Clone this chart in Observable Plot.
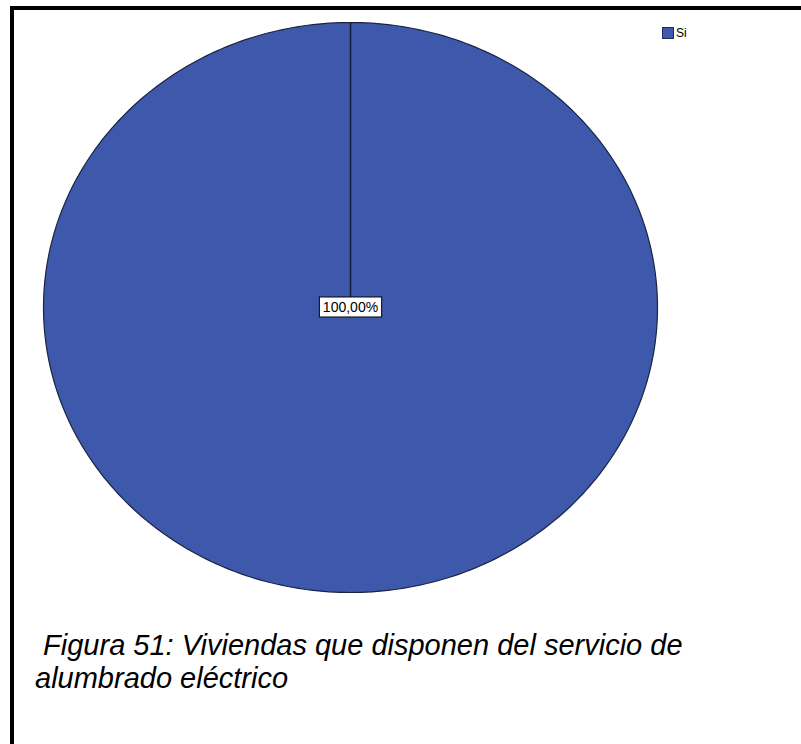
<!DOCTYPE html>
<html>
<head>
<meta charset="utf-8">
<script src="https://cdn.jsdelivr.net/npm/d3@7"></script>
<script src="https://cdn.jsdelivr.net/npm/@observablehq/plot@0.6"></script>
<style>
  html, body { margin: 0; padding: 0; background: #fff; }
  body { width: 801px; height: 744px; position: relative; overflow: hidden; font-family: "Liberation Sans", Arial, sans-serif; }
  #frame { position: absolute; left: 10px; top: 6px; width: 800px; height: 760px; border-top: 4px solid #000; border-left: 4px solid #000; }
  #chart { position: absolute; left: 0; top: 0; }
  #legend { position: absolute; left: 662px; top: 26px; font-size: 12px; color: #000; display: flex; align-items: center; }
  #legend .sw { width: 10px; height: 10px; background: #3e58ac; border: 1px solid #1c2a5c; margin-right: 2px; }
  #caption { position: absolute; left: 35px; top: 629px; font-size: 29px; font-style: italic; line-height: 33px; color: #000; white-space: pre; }
</style>
</head>
<body>
<div id="frame"></div>
<div id="chart"></div>
<div id="legend"></div>
<div id="caption"></div>
<script>
// Data
const categories = ["Si"];
const values = [100];
const labels = ["100,00%"];
const captionLines = [" Figura 51: Viviendas que disponen del servicio de", "alumbrado eléctrico"];

const color = "#3e58ac";

// Pie geometry from data
const arcs = d3.pie().sort(null).value(d => d)(values);
const slices = [];
arcs.forEach((a, i) => {
  const n = 360;
  for (let k = 0; k <= n; k++) {
    const t = a.startAngle + (a.endAngle - a.startAngle) * k / n;
    slices.push({cat: categories[i], x: Math.sin(t), y: Math.cos(t)});
  }
});
const radials = arcs.map((a, i) => ({cat: categories[i], x1: 0, y1: 0, x2: Math.sin(a.startAngle), y2: Math.cos(a.startAngle)}));
const labelPts = arcs.map((a, i) => {
  const full = (a.endAngle - a.startAngle) >= 2 * Math.PI - 1e-9;
  const mid = (a.startAngle + a.endAngle) / 2;
  const r = full ? 0 : 0.6;
  return {label: labels[i], x: r * Math.sin(mid), y: r * Math.cos(mid)};
});

const plot = Plot.plot({
  width: 801,
  height: 744,
  margin: 0,
  x: {domain: [-1, 1], range: [43, 657], axis: null},
  y: {domain: [-1, 1], range: [592, 22], axis: null},
  marks: [
    Plot.line(slices, {x: "x", y: "y", z: "cat", fill: color, stroke: "#1a2440", strokeWidth: 1.2, curve: "linear"}),
    Plot.link(radials, {x1: "x1", y1: "y1", x2: "x2", y2: "y2", stroke: "#111a33", strokeWidth: 1.5}),
    Plot.text(labelPts, {x: "x", y: "y", text: "label", fontSize: 14, fill: "#000", fontFamily: "Liberation Sans, Arial, sans-serif"})
  ]
});
document.getElementById("chart").appendChild(plot);

// boxes behind labels
plot.querySelectorAll("text").forEach(t => {
  if (!labels.includes(t.textContent)) return;
  const b = t.getBBox();
  const r = document.createElementNS("http://www.w3.org/2000/svg", "rect");
  r.setAttribute("x", b.x - 3.5);
  r.setAttribute("y", b.y - 2);
  r.setAttribute("width", b.width + 7);
  r.setAttribute("height", b.height + 4);
  r.setAttribute("fill", "#fff");
  r.setAttribute("stroke", "#000");
  r.setAttribute("stroke-width", "1");
  const tr = t.getAttribute("transform");
  if (tr) r.setAttribute("transform", tr);
  t.parentNode.insertBefore(r, t);
});

// legend
const lg = document.getElementById("legend");
categories.forEach(c => {
  const sw = document.createElement("span"); sw.className = "sw"; lg.appendChild(sw);
  const tx = document.createElement("span"); tx.textContent = c; lg.appendChild(tx);
});

document.getElementById("caption").textContent = captionLines.join("\n");
</script>
</body>
</html>
